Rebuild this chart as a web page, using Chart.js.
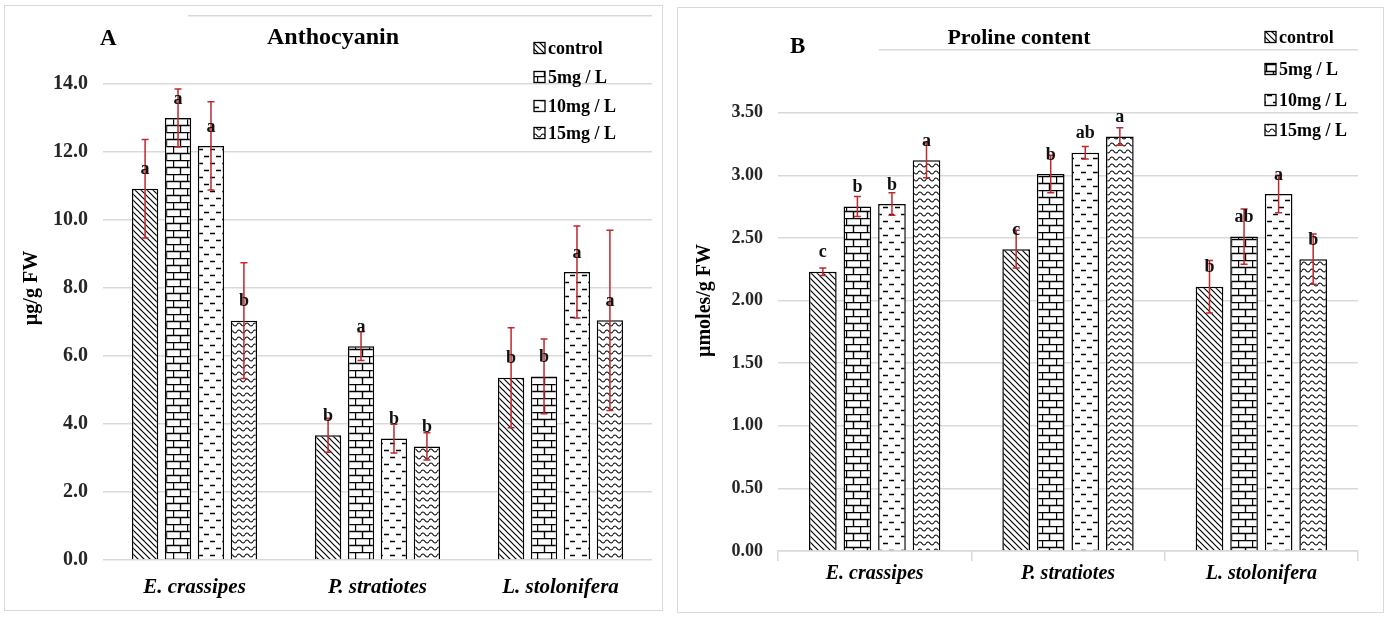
<!DOCTYPE html>
<html lang="en">
<head>
<meta charset="UTF-8">
<title>Anthocyanin and proline content</title>
<script src="https://cdn.jsdelivr.net/npm/chart.js"></script>
<style>
  body { margin: 0; background: #fff; width: 1389px; height: 617px; position: relative; overflow: hidden; }
  .panel { position: absolute; box-sizing: border-box; border: 1px solid #d9d9d9; }
  #panelA { left: 4px; top: 5px; width: 659px; height: 606px; }
  #panelB { left: 677px; top: 7px; width: 707px; height: 606px; }
  canvas { display: block; }
</style>
</head>
<body>
<div class="panel" id="panelA"><canvas id="chartA" width="657" height="604"></canvas></div>
<div class="panel" id="panelB"><canvas id="chartB" width="705" height="604"></canvas></div>
<script>
const species = ['E. crassipes', 'P. stratiotes', 'L. stolonifera'];
const treatments = ['control', '5mg / L', '10mg / L', '15mg / L'];

// Anthocyanin (µg/g FW)
const anthoControl = [10.92, 3.67, 5.36];
const antho5 = [13.0, 6.29, 5.40];
const antho10 = [12.18, 3.57, 8.47];
const antho15 = [7.04, 3.34, 7.05];
const anthoErrControl = [1.45, 0.5, 1.47];
const anthoErr5 = [0.85, 0.42, 1.1];
const anthoErr10 = [1.3, 0.42, 1.35];
const anthoErr15 = [1.7, 0.4, 2.65];
const anthoLetControl = ['a', 'b', 'b'];
const anthoLet5 = ['a', 'a', 'b'];
const anthoLet10 = ['a', 'b', 'a'];
const anthoLet15 = ['b', 'b', 'a'];

// Proline (µmoles/g FW)
const proControl = [2.23, 2.41, 2.11];
const pro5 = [2.75, 3.01, 2.51];
const pro10 = [2.77, 3.18, 2.85];
const pro15 = [3.12, 3.31, 2.33];
const proErrControl = [0.03, 0.15, 0.21];
const proErr5 = [0.08, 0.15, 0.22];
const proErr10 = [0.09, 0.05, 0.15];
const proErr15 = [0.14, 0.07, 0.2];
const proLetControl = ['c', 'c', 'b'];
const proLet5 = ['b', 'b', 'ab'];
const proLet10 = ['b', 'ab', 'a'];
const proLet15 = ['a', 'a', 'b'];

const serif = "'Liberation Serif', 'Times New Roman', serif";

// black & white fill patterns like the Excel ones
function makePattern(ctx, kind) {
  const sizes = { diag: [6, 6], brick: [14, 14], dash: [12, 14], wave: [8, 7] };
  const [w, h] = sizes[kind];
  const c = document.createElement('canvas');
  c.width = w; c.height = h;
  const g = c.getContext('2d');
  g.fillStyle = '#fff';
  g.fillRect(0, 0, w, h);
  g.strokeStyle = '#000';
  g.lineWidth = 1.2;
  g.beginPath();
  if (kind === 'diag') {
    g.moveTo(-1, -1); g.lineTo(w + 1, h + 1);
    g.moveTo(w - 1, -1); g.lineTo(w + 1, 1);
    g.moveTo(-1, h - 1); g.lineTo(1, h + 1);
  } else if (kind === 'brick') {
    g.lineWidth = 1.4;
    g.moveTo(0, 0.5); g.lineTo(w, 0.5);
    g.moveTo(0, 7.5); g.lineTo(w, 7.5);
    g.moveTo(0.5, 0); g.lineTo(0.5, 7.5);
    g.moveTo(7.5, 7.5); g.lineTo(7.5, 14);
  } else if (kind === 'dash') {
    g.lineWidth = 1.5;
    g.moveTo(1, 3.5); g.lineTo(6, 3.5);
    g.moveTo(7, 10.5); g.lineTo(12, 10.5);
  } else {
    g.moveTo(0, 3.5);
    g.quadraticCurveTo(2, 0.5, 4, 3.5);
    g.quadraticCurveTo(6, 6.5, 8, 3.5);
  }
  g.stroke();
  return ctx.createPattern(c, 'repeat');
}

// error bars + significance letters
const marksPlugin = {
  id: 'marks',
  afterDatasetsDraw(chart, args, opts) {
    const ctx = chart.ctx, y = chart.scales.y;
    ctx.save();
    ctx.strokeStyle = '#c0282d';
    ctx.lineWidth = 1.5;
    chart.data.datasets.forEach((ds, di) => {
      chart.getDatasetMeta(di).data.forEach((bar, i) => {
        const v = ds.data[i], e = opts.errors[di][i];
        const top = y.getPixelForValue(v + e), bot = y.getPixelForValue(v - e);
        ctx.beginPath();
        ctx.moveTo(bar.x, top); ctx.lineTo(bar.x, bot);
        ctx.moveTo(bar.x - 3.5, top); ctx.lineTo(bar.x + 3.5, top);
        ctx.moveTo(bar.x - 3.5, bot); ctx.lineTo(bar.x + 3.5, bot);
        ctx.stroke();
      });
    });
    ctx.fillStyle = '#111';
    ctx.font = 'bold 18px ' + serif;
    ctx.textAlign = 'center';
    ctx.textBaseline = 'middle';
    chart.data.datasets.forEach((ds, di) => {
      chart.getDatasetMeta(di).data.forEach((bar, i) => {
        ctx.fillText(opts.letters[di][i], bar.x, bar.y - opts.lift);
      });
    });
    ctx.restore();
  }
};

// title, panel letter, floating legend and the white text-box cover
const overlayPlugin = {
  id: 'overlay',
  beforeDatasetsDraw(chart, args, opts) {
    const ctx = chart.ctx;
    ctx.save();
    ctx.fillStyle = '#fff';
    ctx.fillRect(opts.cover[0], opts.cover[1], opts.cover[2], opts.cover[3]);
    ctx.restore();
  },
  afterDraw(chart, args, opts) {
    const ctx = chart.ctx;
    ctx.save();
    ctx.fillStyle = '#000';
    ctx.textBaseline = 'middle';
    ctx.textAlign = 'center';
    ctx.font = 'bold ' + opts.titleSize + 'px ' + serif;
    ctx.fillText(opts.title, opts.titleX, opts.titleY);
    ctx.textAlign = 'left';
    ctx.font = 'bold 23px ' + serif;
    ctx.fillText(opts.panel, opts.panelX, opts.panelY);
    ctx.font = 'bold 18px ' + serif;
    chart.data.datasets.forEach((ds, i) => {
      const yy = opts.legendY[i];
      ctx.fillStyle = ds.backgroundColor;
      ctx.fillRect(opts.legendX, yy - 5.5, 11, 11);
      ctx.strokeStyle = '#000';
      ctx.lineWidth = 1.3;
      ctx.strokeRect(opts.legendX, yy - 5.5, 11, 11);
      ctx.fillStyle = '#000';
      ctx.fillText(ds.label, opts.legendX + 14, yy + 1);
    });
    ctx.restore();
  }
};

function buildChart(id, cfg) {
  const ctx = document.getElementById(id).getContext('2d');
  const kinds = ['diag', 'brick', 'dash', 'wave'];
  const datasets = cfg.series.map((vals, i) => ({
    label: treatments[i],
    data: vals,
    backgroundColor: makePattern(ctx, kinds[i]),
    borderColor: '#000',
    borderWidth: 1.5,
    categoryPercentage: cfg.catPct,
    barPercentage: 0.8
  }));
  return new Chart(ctx, {
    type: 'bar',
    data: { labels: species, datasets: datasets },
    plugins: [marksPlugin, overlayPlugin],
    options: {
      responsive: false,
      animation: false,
      layout: { padding: { left: 0, right: cfg.padR, top: cfg.padT, bottom: 0 } },
      plugins: {
        legend: { display: false },
        tooltip: { enabled: false },
        marks: { errors: cfg.errors, letters: cfg.letters, lift: 19 },
        overlay: cfg.overlay
      },
      scales: {
        x: {
          ticks: {
            padding: cfg.xPad,
            color: '#000',
            font: { family: serif, size: cfg.xSize, weight: 'bold', style: 'italic' }
          },
          grid: cfg.xTicks
            ? { display: true, drawOnChartArea: false, drawTicks: true, tickLength: 10, color: '#d9d9d9', lineWidth: 1.5, offset: true }
            : { display: false, drawTicks: false },
          border: { display: cfg.xTicks, color: '#d9d9d9', width: 1.5 },
          afterFit: s => { s.height = cfg.xHeight; }
        },
        y: {
          min: 0,
          max: cfg.yMax,
          ticks: {
            stepSize: cfg.step,
            padding: 15,
            color: '#262626',
            font: { family: serif, size: cfg.tickSize, weight: 'bold', lineHeight: 1 },
            callback: v => (v >= cfg.yMax ? '' : v.toFixed(cfg.dec))
          },
          grid: { color: '#d9d9d9', lineWidth: 1.5, drawTicks: false },
          border: { display: false },
          title: {
            display: true,
            text: cfg.yTitle,
            color: '#000',
            font: { family: serif, size: 20, weight: 'bold' },
            padding: { top: 15, bottom: 0 }
          },
          afterFit: s => {
            s.width = cfg.yWidth;
            s.paddingTop = 0;
            s.paddingBottom = 0;
          }
        }
      }
    }
  });
}

buildChart('chartA', {
  series: [anthoControl, antho5, antho10, antho15],
  errors: [anthoErrControl, anthoErr5, anthoErr10, anthoErr15],
  letters: [anthoLetControl, anthoLet5, anthoLet10, anthoLet15],
  yMax: 16, step: 2, dec: 1, tickSize: 20, yWidth: 98,
  padR: 10, padT: 10, xHeight: 50, xPad: 15, xSize: 21,
  catPct: 0.72, xTicks: false,
  yTitle: 'µg/g FW',
  overlay: {
    title: 'Anthocyanin', titleX: 328, titleY: 32, titleSize: 24,
    panel: 'A', panelX: 95, panelY: 33,
    legendX: 529, legendY: [42, 71, 100, 127],
    cover: [93, 0, 90, 20]
  }
});

buildChart('chartB', {
  series: [proControl, pro5, pro10, pro15],
  errors: [proErrControl, proErr5, proErr10, proErr15],
  letters: [proLetControl, proLet5, proLet10, proLet15],
  yMax: 4, step: 0.5, dec: 2, tickSize: 18, yWidth: 100,
  padR: 25, padT: 42, xHeight: 61, xPad: 1, xSize: 20,
  catPct: 0.715, xTicks: true,
  yTitle: 'µmoles/g FW',
  overlay: {
    title: 'Proline content', titleX: 341, titleY: 30, titleSize: 22,
    panel: 'B', panelX: 112, panelY: 39,
    legendX: 587, legendY: [29, 61, 92, 122],
    cover: [95, 30, 106, 20]
  }
});
</script>
</body>
</html>
